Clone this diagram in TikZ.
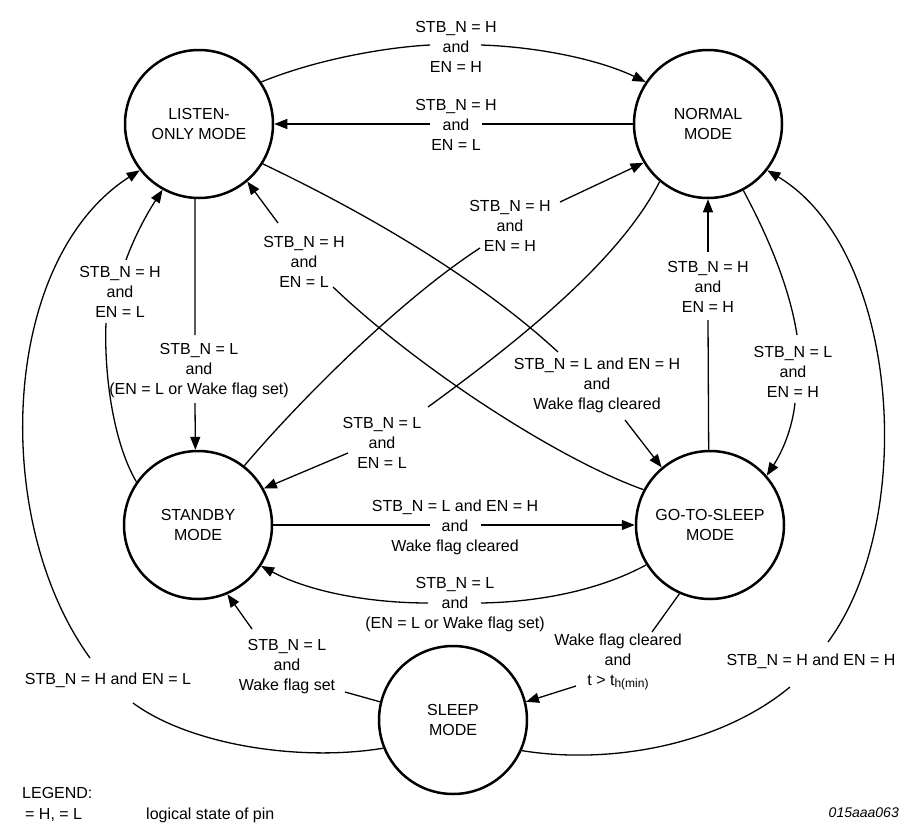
\documentclass[tikz,border=0pt]{standalone}
\usepackage{fontspec}
\setmainfont{Liberation Sans}
\usetikzlibrary{arrows.meta}
\begin{document}
\begin{tikzpicture}[x=1pt,y=-1pt,
  state/.style={draw,circle,line width=2.5pt,minimum size=148pt,inner sep=0pt,align=center,font=\fontsize{16}{20}\selectfont},
  lbl/.style={align=center,inner sep=0pt,font=\fontsize{16}{20}\selectfont},
  conn/.style={line width=1.3pt},
  arr/.style={conn,-{Triangle[length=13pt,width=10pt]}},
  legtxt/.style={inner sep=0pt,font=\fontsize{16}{20}\selectfont}]
\useasboundingbox (0,0) rectangle (916,833);
\fill[white] (0,0) rectangle (916,833);

% states
\node[state] (listen) at (199,124) {LISTEN-\\ONLY MODE};
\node[state] (normal) at (708,124) {NORMAL\\MODE};
\node[state] (standby) at (198,525) {STANDBY\\MODE};
\node[state] (gts) at (710,525) {GO-TO-SLEEP\\MODE};
\node[state] (sleep) at (453,720) {SLEEP\\MODE};

% gap coordinates
\coordinate (c1a) at (430,45);  \coordinate (c1b) at (481,45);
\coordinate (c2a) at (482,124); \coordinate (c2b) at (430,124);
\coordinate (c3a) at (195,335); \coordinate (c3b) at (195,403);
\coordinate (c4a) at (106,323); \coordinate (c4b) at (126,260);
\coordinate (c5a) at (133,703); \coordinate (c5b) at (90,658);
\coordinate (c6a) at (790,687); \coordinate (c6b) at (828,642);
\coordinate (c7a) at (797,335); \coordinate (c7b) at (795,403);
\coordinate (c8a) at (708,320); \coordinate (c8b) at (708,252);
\coordinate (c9a) at (558,352); \coordinate (c9b) at (625,420);
\coordinate (c10a) at (333,287); \coordinate (c10b) at (278,223);
\coordinate (c11a) at (480,248); \coordinate (c11b) at (560,202);
\coordinate (c12a) at (428,407); \coordinate (c12b) at (348,453);
\coordinate (c13a) at (430,525); \coordinate (c13b) at (481,525);
\coordinate (c14a) at (481,603); \coordinate (c14b) at (428,603);
\coordinate (c15a) at (345,692); \coordinate (c15b) at (252,629);
\coordinate (c16a) at (652,632); \coordinate (c16b) at (576,686);

% connectors
\draw[conn] (listen.34) .. controls (320,58) and (390,47) .. (c1a);
\draw[arr] (c1b) .. controls (540,47) and (600,60) .. (normal.146);

\draw[conn] (normal.180) -- (c2a);
\draw[arr] (c2b) -- (listen.0);

\draw[conn] (listen.267) -- (c3a);
\draw[arr] (c3b) -- (standby.92);

\draw[conn] (standby.145) .. controls (112,440) and (104,370) .. (c4a);
\draw[arr] (c4b) .. controls (135,235) and (148,212) .. (listen.241.5);

\draw[conn] (sleep.202) .. controls (300,762) and (190,745) .. (c5a);
\draw[arr] (c5b) .. controls (-10,520) and (0,260) .. (listen.218);

\draw[conn] (sleep.336) .. controls (610,765) and (720,745) .. (c6a);
\draw[arr] (c6b) .. controls (918,520) and (900,250) .. (normal.322);

\draw[conn] (normal.298) .. controls (770,240) and (790,290) .. (c7a);
\draw[arr] (c7b) .. controls (792,430) and (782,452) .. (gts.41);

\draw[conn] (gts.91.5) -- (c8a);
\draw[arr] (c8b) -- (normal.270);

\draw[conn] (listen.328) .. controls (370,215) and (480,280) .. (c9a);
\draw[arr] (c9b) -- (gts.130);

\draw[conn] (gts.152) .. controls (560,460) and (420,370) .. (c10a);
\draw[arr] (c10b) -- (listen.310);

\draw[conn] (standby.52) .. controls (300,400) and (400,300) .. (c11a);
\draw[arr] (c11b) -- (normal.211);

\draw[conn] (normal.230) .. controls (620,260) and (520,340) .. (c12a);
\draw[arr] (c12b) -- (standby.29);

\draw[conn] (standby.0) -- (c13a);
\draw[arr] (c13b) -- (gts.180);

\draw[conn] (gts.212) .. controls (600,590) and (540,602) .. (c14a);
\draw[arr] (c14b) .. controls (370,603) and (310,592) .. (standby.327);

\draw[conn] (sleep.166) -- (c15a);
\draw[arr] (c15b) -- (standby.293);

\draw[conn] (gts.246) -- (c16a);
\draw[arr] (c16b) -- (sleep.14);

% labels
\node[lbl] (l1) at (456,47) {STB\_N = H\\and\\EN = H};
\node[lbl] (l2) at (456,125) {STB\_N = H\\and\\EN = L};
\node[lbl] (l3) at (199,371) {STB\_N = L\\and\\(EN = L or Wake flag set)};
\node[lbl] (l4) at (120,292) {STB\_N = H\\and\\EN = L};
\node[lbl] (l5) at (108,680) {STB\_N = H and EN = L};
\node[lbl] (l6) at (811,661) {STB\_N = H and EN = H};
\node[lbl] (l7) at (793,372) {STB\_N = L\\and\\EN = H};
\node[lbl] (l8) at (708,287) {STB\_N = H\\and\\EN = H};
\node[lbl] (l9) at (597,385) {STB\_N = L and EN = H\\and\\Wake flag cleared};
\node[lbl] (l10) at (304,262) {STB\_N = H\\and\\EN = L};
\node[lbl] (l11) at (510,226) {STB\_N = H\\and\\EN = H};
\node[lbl] (l12) at (382,443) {STB\_N = L\\and\\EN = L};
\node[lbl] (l13) at (455,527) {STB\_N = L and EN = H\\and\\Wake flag cleared};
\node[lbl] (l14) at (455,605) {STB\_N = L\\and\\(EN = L or Wake flag set)};
\node[lbl] (l15) at (287,667) {STB\_N = L\\and\\Wake flag set};
\node[lbl] (l16) at (618,662) {Wake flag cleared\\and\\t > t\raisebox{-0.3ex}{\fontsize{12}{12}\selectfont h(min)}};

% legend
\node[legtxt,anchor=base west] (leg) at (22,798) {LEGEND:};
\node[legtxt,anchor=base west] (legA) at (25,819) {= H, = L};
\node[legtxt,anchor=base west] (legB) at (146,819) {logical state of pin};
\node[inner sep=0pt,anchor=base east,font=\fontsize{14}{16}\selectfont\itshape] (fid) at (899,817) {015aaa063};
\end{tikzpicture}
\end{document}
